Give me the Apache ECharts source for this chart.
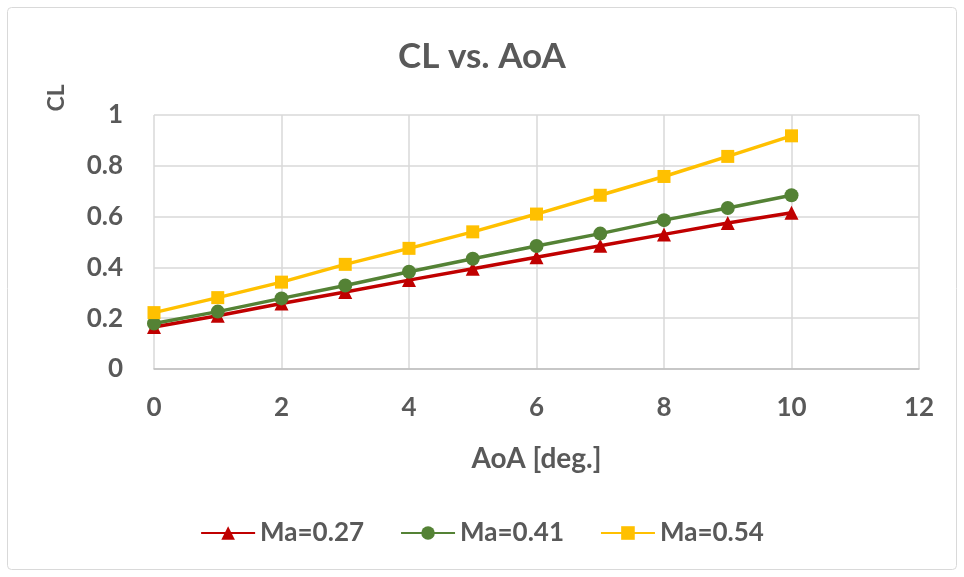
<!DOCTYPE html>
<html><head><meta charset="utf-8">
<script src="https://cdn.jsdelivr.net/npm/echarts@6/dist/echarts.min.js"></script>
<style>html,body{margin:0;padding:0;background:#fff}#c{width:964px;height:577px}</style>
</head><body><div id="c"></div>
<script>
const aoa = [0,1,2,3,4,5,6,7,8,9,10];
const seriesNames = ['Ma=0.27','Ma=0.41','Ma=0.54'];
const clMa027 = [0.165,0.21,0.258,0.303,0.35,0.395,0.44,0.485,0.53,0.575,0.615];
const clMa041 = [0.179,0.226,0.278,0.329,0.383,0.434,0.484,0.533,0.586,0.634,0.684];
const clMa054 = [0.222,0.281,0.342,0.412,0.475,0.540,0.610,0.684,0.758,0.837,0.918];
const xTicks = [0,2,4,6,8,10,12];
const yTicks = [0,0.2,0.4,0.6,0.8,1];

const font = 'Lato, "Open Sans", sans-serif';
const txt = '#595959';
const pair = (ys) => aoa.map((x,i)=>[x, ys[i]]);
const chart = echarts.init(document.getElementById('c'));
chart.setOption({
  animation:false,
  title:{text:'CL vs. AoA', left:'center', top:34, textStyle:{fontFamily:font,fontSize:35,fontWeight:'bold',color:txt}},
  graphic:[
    {type:'rect', shape:{x:7.5,y:7.5,width:949,height:562,r:4}, style:{fill:'none',stroke:'#d9d9d9',lineWidth:1}},
    {type:'text', x:57, y:98, rotation:Math.PI/2, style:{text:'CL', fontFamily:font, fontSize:23, fontWeight:'bold', fill:txt, align:'center', verticalAlign:'middle'}}
  ],
  grid:{left:154, right:45, top:115, bottom:208},
  legend:{top:515, left:'center', itemWidth:54, itemHeight:17, itemGap:36,
    textStyle:{fontFamily:font,fontSize:26,color:txt,fontWeight:'bold'}, data:seriesNames},
  xAxis:{type:'value', min:0, max:12, interval:2, name:'AoA [deg.]', nameLocation:'middle', nameGap:76,
    nameTextStyle:{fontFamily:font,fontSize:28,fontWeight:'bold',color:txt},
    axisLine:{show:true,lineStyle:{color:'#bfbfbf',width:1.5}}, axisTick:{show:false},
    axisLabel:{fontFamily:font,fontSize:26,fontWeight:'bold',color:txt,margin:26,
      formatter:(v)=>xTicks.includes(v)?String(v):''},
    splitLine:{show:true,lineStyle:{color:'#d9d9d9',width:1.5}}},
  yAxis:{type:'value', min:0, max:1, interval:0.2,
    axisLine:{show:false}, axisTick:{show:false},
    axisLabel:{fontFamily:font,fontSize:26,fontWeight:'bold',color:txt,margin:31,
      formatter:(v)=>{const t=yTicks.find(k=>Math.abs(k-v)<1e-9);return t===undefined?'':String(t);}},
    splitLine:{show:true,lineStyle:{color:'#d9d9d9',width:1.5}}},
  series:[
    {name:seriesNames[0], type:'line', data:pair(clMa027), symbol:'triangle', symbolSize:14,
     lineStyle:{color:'#C00000',width:3.5}, itemStyle:{color:'#C00000'}},
    {name:seriesNames[1], type:'line', data:pair(clMa041), symbol:'circle', symbolSize:14,
     lineStyle:{color:'#548235',width:3.5}, itemStyle:{color:'#548235'}},
    {name:seriesNames[2], type:'line', data:pair(clMa054), symbol:'rect', symbolSize:13,
     lineStyle:{color:'#FFC000',width:3.5}, itemStyle:{color:'#FFC000'}}
  ]
});
</script></body></html>
